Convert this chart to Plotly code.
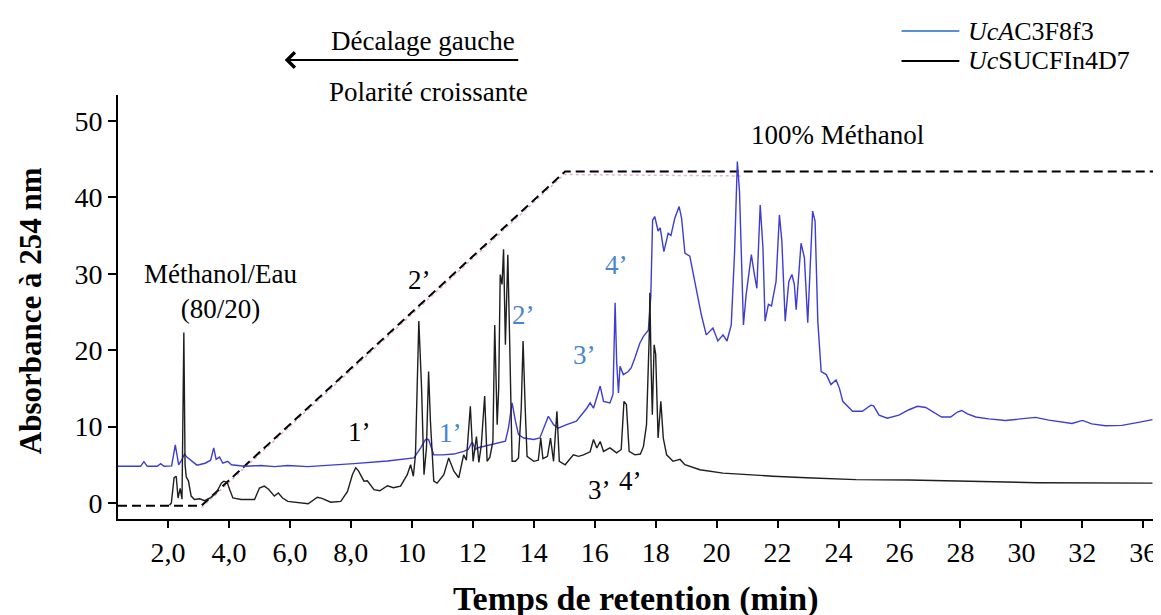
import plotly.graph_objects as go

# ---------------- data ----------------
tick_vals = [2, 4, 6, 8, 10, 12, 14, 16, 18, 20, 22, 24, 26, 28, 30, 32, 34]
tick_text = ["2,0", "4,0", "6,0", "8,0", "10", "12", "14", "16", "18", "20",
             "22", "24", "26", "28", "30", "32", "36"]
y_ticks = [0, 10, 20, 30, 40, 50]

# UcAC3F8f3 (blue)
blue_t = [0.36, 1.10, 1.21, 1.32, 1.65, 1.76, 1.87, 2.12, 2.24, 2.35, 2.45, 2.54, 2.62, 2.76,
          2.95, 3.22, 3.40, 3.50, 3.58, 3.69, 3.80, 3.96, 4.08, 4.51, 5.05, 5.49, 5.93, 6.58,
          7.00, 8.10, 9.20, 9.85, 10.07, 10.29, 10.45, 10.55, 10.72, 11.00, 11.38, 11.70,
          11.85, 11.98, 12.09, 12.14, 12.47, 12.80, 13.07, 13.17, 13.29, 13.40, 13.50, 13.67,
          14.00, 14.20, 14.32, 14.48, 14.65, 14.80, 15.08, 15.40, 15.74, 15.85, 15.96, 16.18,
          16.29, 16.50, 16.60, 16.67, 16.72, 16.78, 16.83, 16.94, 17.10, 17.20, 17.32, 17.48,
          17.60, 17.76, 17.84, 17.90, 17.97, 18.08, 18.15, 18.27, 18.41, 18.50, 18.63, 18.77,
          18.85, 18.96, 19.12, 19.28, 19.50, 19.66, 19.88, 20.04, 20.21, 20.34, 20.48, 20.59,
          20.68, 20.75, 20.81, 20.88, 20.97, 21.14, 21.24, 21.32, 21.43, 21.52, 21.59, 21.70,
          21.80, 21.95, 22.06, 22.14, 22.25, 22.37, 22.47, 22.55, 22.61, 22.77, 22.88, 22.99,
          23.15, 23.23, 23.32, 23.43, 23.60, 23.75, 23.92, 24.03, 24.14, 24.46, 24.78, 25.06,
          25.15, 25.33, 25.60, 25.98, 26.31, 26.59, 26.86, 27.13, 27.38, 27.68, 27.90, 28.04,
          28.23, 28.50, 28.93, 29.48, 29.92, 30.46, 30.90, 31.33, 31.66, 32.00, 32.31, 32.75,
          33.30, 33.84, 34.30]
blue_a = [4.8, 4.8, 5.4, 4.8, 4.8, 5.15, 4.8, 4.85, 7.6, 5.0, 5.6, 6.4, 6.0, 5.5,
          4.95, 5.2, 5.6, 7.2, 5.7, 6.0, 5.2, 5.45, 5.0, 4.8, 4.9, 4.75, 4.9, 4.75,
          4.85, 5.15, 5.5, 5.8, 5.9, 7.2, 8.3, 8.3, 6.3, 6.3, 6.4, 6.75,
          7.0, 8.0, 7.0, 7.2, 7.5, 7.85, 8.1, 9.8, 13.1, 10.7, 8.95, 8.5,
          8.3, 8.5, 9.8, 11.35, 10.25, 9.8, 10.25, 10.7, 12.4, 13.1, 12.4, 15.3,
          13.3, 13.1, 14.2, 26.2, 18.5, 14.4, 17.9, 16.8, 17.2, 17.7, 19.0, 20.9,
          21.8, 22.6, 27.0, 37.0, 37.5, 35.6, 36.0, 32.9, 35.3, 35.0, 37.3, 38.8,
          37.3, 32.7, 32.3, 29.0, 24.6, 22.0, 22.9, 21.2, 22.0, 21.2, 23.3, 32.9,
          44.7, 40.8, 32.1, 23.3, 27.3, 32.5, 29.9, 28.1, 39.0, 33.4, 23.8, 26.0,
          25.8, 29.0, 37.7, 34.3, 23.8, 29.0, 29.9, 28.6, 25.3, 34.0, 32.1, 23.6,
          38.2, 36.9, 23.8, 17.2, 16.8, 15.5, 16.1, 15.0, 13.3, 12.0, 12.0, 12.8,
          12.7, 11.5, 11.1, 11.5, 12.2, 12.65, 12.5, 11.8, 11.25, 11.25, 11.9, 12.1,
          11.65, 11.25, 11.0, 10.8, 11.0, 11.2, 10.85, 10.55, 10.4, 10.8, 10.35, 10.1,
          10.15, 10.55, 10.9]

# UcSUCFIn4D7 (black)
black_t = [2.05, 2.11, 2.20, 2.27, 2.33, 2.40, 2.46, 2.52, 2.56, 2.60, 2.67, 2.76, 2.87, 3.04,
           3.20, 3.40, 3.58, 3.75, 3.83, 3.94, 4.02, 4.13, 4.40, 4.84, 5.00, 5.16, 5.30, 5.49,
           5.62, 5.76, 5.93, 6.47, 6.60, 6.90, 7.05, 7.34, 7.67, 7.89, 8.05, 8.16, 8.25, 8.43,
           8.54, 8.76, 8.95, 9.20, 9.40, 9.63, 9.85, 9.96, 10.05, 10.12, 10.23, 10.32, 10.40,
           10.48, 10.55, 10.61, 10.72, 10.83, 11.05, 11.21, 11.38, 11.54, 11.70, 11.79, 11.92,
           12.01, 12.12, 12.20, 12.28, 12.39, 12.47, 12.56, 12.66, 12.72, 12.80, 12.85, 12.90,
           12.96, 13.01, 13.07, 13.15, 13.21, 13.29, 13.40, 13.50, 13.59, 13.65, 13.72, 13.78,
           14.00, 14.15, 14.23, 14.30, 14.45, 14.55, 14.65, 14.76, 14.84, 15.03, 15.30, 15.47,
           15.63, 15.85, 15.96, 16.07, 16.18, 16.29, 16.50, 16.72, 16.87, 16.96, 17.04, 17.13,
           17.32, 17.50, 17.60, 17.70, 17.79, 17.81, 17.85, 17.89, 17.95, 18.00, 18.08, 18.17,
           18.25, 18.36, 18.57, 18.80, 18.96, 19.45, 20.21, 20.97, 21.85, 22.94, 24.57, 26.30,
           27.00, 28.30, 29.50, 30.50, 34.30]
black_a = [-0.3, 0.0, 3.3, 3.5, 0.65, 1.9, 0.5, 22.3, 5.0, 3.4, 2.9, 0.9, 0.45, 0.55,
           0.3, 0.7, 1.3, 2.6, 2.85, 2.7, 1.8, 0.65, 0.45, 0.45, 1.95, 2.2, 1.8, 0.9,
           1.3, 0.65, 0.2, 0.0, -0.1, 0.75, 0.6, 0.1, 0.2, 1.5, 3.7, 4.6, 4.2, 2.85,
           2.9, 1.75, 1.6, 2.25, 2.0, 2.2, 3.7, 5.0, 3.5, 6.3, 23.8, 15.0, 3.7,
           7.2, 17.2, 10.7, 2.85, 2.6, 3.7, 5.9, 4.15, 3.3, 6.3, 5.6, 12.65,
           5.45, 8.7, 5.3, 7.6, 14.0, 5.45, 6.0, 8.05, 23.3, 10.25, 15.0, 29.9,
           28.6, 33.2, 20.7, 32.5, 21.2, 5.45, 5.45, 5.9, 12.4, 21.2, 12.4, 6.1,
           5.45, 5.6, 8.5, 5.8, 6.1, 8.5, 5.45, 12.0, 5.45, 5.0, 6.3, 6.1,
           6.3, 6.7, 8.3, 7.2, 8.05, 6.75, 7.2, 6.55, 7.0, 13.3, 12.9, 6.75,
           6.3, 6.4, 7.4, 10.25, 22.0, 27.5, 18.0, 11.55, 20.7, 19.5, 8.5, 13.3,
           8.5, 6.3, 5.45, 5.7, 5.0, 4.35, 3.9, 3.7, 3.5, 3.3, 3.05, 3.0,
           2.95, 2.9, 2.75, 2.65, 2.6]

# solvent gradient (dashed) and its faint pink trace
grad_t = [0.36, 3.1, 15.03, 34.35]
grad_a = [-0.35, -0.35, 43.4, 43.4]
pink_t = [3.1, 15.0, 20.85]
pink_a = [-0.6, 43.0, 42.8]

# ---------------- styles ----------------
SERIF = "Liberation Serif, Times New Roman, serif"
BLUE_LINE = "#3d3dd3"
BLUE_TEXT = "#4a86cc"
BLUE_LEG = "#5b8fd6"
BLACK_LINE = "#1e1e1e"

fig = go.Figure()
fig.add_trace(go.Scatter(x=pink_t, y=pink_a, mode="lines",
                         line=dict(color="#e2b4d4", width=1.5, dash="dot"),
                         hoverinfo="skip", showlegend=False))
fig.add_trace(go.Scatter(x=grad_t, y=grad_a, mode="lines",
                         line=dict(color="black", width=2, dash="9px,5px"),
                         hoverinfo="skip", showlegend=False))
fig.add_trace(go.Scatter(x=blue_t, y=blue_a, mode="lines", name="UcAC3F8f3",
                         line=dict(color=BLUE_LINE, width=1.4), showlegend=False))
fig.add_trace(go.Scatter(x=black_t, y=black_a, mode="lines", name="UcSUCFIn4D7",
                         line=dict(color=BLACK_LINE, width=1.4), showlegend=False))

ann = []
def txt(x, y, s, size=27, color="black", xref="x", yref="y", xanchor="center", **kw):
    ann.append(dict(x=x, y=y, xref=xref, yref=yref, text=s, showarrow=False,
                    xanchor=xanchor, yanchor="middle",
                    font=dict(family=SERIF, size=size, color=color), **kw))

txt(3.72, 27.7, "Méthanol/Eau<br>(80/20)")
txt(10.24, 29.2, "2’")
txt(8.28, 9.3, "1’")
txt(11.26, 9.2, "1’", color=BLUE_TEXT)
txt(13.68, 24.6, "2’", color=BLUE_TEXT)
txt(15.67, 19.4, "3’", color=BLUE_TEXT)
txt(16.72, 31.2, "4’", color=BLUE_TEXT)
txt(16.16, 1.7, "3’")
txt(17.18, 2.9, "4’")
txt(23.98, 48.2, "100% Méthanol")

# top arrow annotation
txt(0.2948, 1.1274, "Décalage gauche", xref="paper", yref="paper")
txt(0.2996, 1.0071, "Polarité croissante", xref="paper", yref="paper")
ann.append(dict(x=0.1609, y=1.0825, xref="paper", yref="paper", text="",
                showarrow=True, ax=235, ay=0, axref="pixel", ayref="pixel",
                arrowhead=4, arrowsize=1.5, arrowwidth=2, arrowcolor="black",
                standoff=0, startstandoff=0))

# legend
txt(0.8189, 1.1509, "<i>UcA</i>C3F8f3", size=26, xref="paper", yref="paper", xanchor="left")
txt(0.8189, 1.0802, "<i>Uc</i>SUCFIn4D7", size=26, xref="paper", yref="paper", xanchor="left")

# axis titles
txt(0.5, -0.1887, "<b>Temps de retention (min)</b>", size=34, xref="paper", yref="paper")
txt(-0.0838, 0.4906, "<b>Absorbance à 254 nm</b>", size=31, xref="paper", yref="paper",
    textangle=-90)

shapes = [
    dict(type="line", xref="paper", yref="paper", x0=0.7563, x1=0.8121, y0=1.1509, y1=1.1509,
         line=dict(color=BLUE_LEG, width=2)),
    dict(type="line", xref="paper", yref="paper", x0=0.7563, x1=0.8121, y0=1.0802, y1=1.0802,
         line=dict(color="black", width=2)),
]

fig.update_layout(
    width=1161, height=615,
    margin=dict(l=110, r=13, t=87, b=104),
    paper_bgcolor="white", plot_bgcolor="white",
    font=dict(family=SERIF, size=28, color="black"),
    annotations=ann, shapes=shapes, showlegend=False,
    xaxis=dict(range=[0.36, 34.35], tickvals=tick_vals, ticktext=tick_text,
               showgrid=False, zeroline=False, showline=True, linecolor="black", linewidth=2,
               ticks="outside", ticklen=7, tickwidth=2, tickcolor="black",
               tickfont=dict(family=SERIF, size=28, color="black")),
    yaxis=dict(range=[-2.1, 53.4], tickvals=y_ticks,
               showgrid=False, zeroline=False, showline=True, linecolor="black", linewidth=2,
               ticks="outside", ticklen=8, tickwidth=2, tickcolor="black",
               tickfont=dict(family=SERIF, size=28, color="black")),
)

fig.write_html("out.html")
